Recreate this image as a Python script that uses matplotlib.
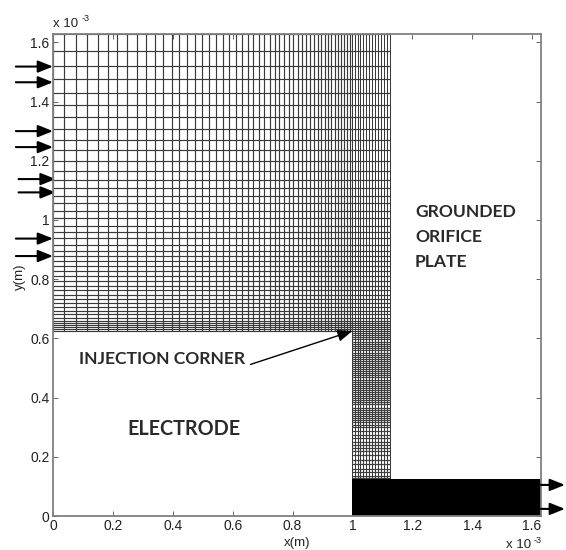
import matplotlib
matplotlib.use("Agg")
import matplotlib.pyplot as plt

# mesh lines, in units of 1e-3 m
x_upper = [0, .038, .076, .114, .149, .183, .215, .248, .279, .311, .341, .368, .397, .422, .447,
           .473, .497, .521, .544, .567, .589, .610, .630, .650, .669, .688, .706, .724, .740,
           .756, .772, .788, .802, .817, .831, .845, .858, .871, .884, .895, .907, .918, .929,
           .941, .952, .962, .972, .982, .991]
x_column = [1.0, 1.009, 1.018, 1.027, 1.037, 1.047, 1.057, 1.067, 1.077, 1.087, 1.097, 1.107, 1.117, 1.127]
y_upper = [1.628, 1.571, 1.519, 1.476, 1.429, 1.388, 1.348, 1.307, 1.270, 1.236, 1.199, 1.166, 1.135,
           1.108, 1.082, 1.057, 1.031, 1.006, .981, .958, .938, .917, .896, .878, .861, .845, .829,
           .812, .794, .778, .762, .747, .733, .719, .707, .694, .681, .670, .660, .651, .644, .637,
           .630, .625]
y_column = [.618, .611, .604, .597, .587, .580, .573, .566, .559, .552, .545, .538, .531, .524, .517,
            .510, .503, .496, .489, .482, .475, .468, .461, .454, .447, .440, .433, .426, .419, .412,
            .405, .398, .391, .384, .377, .365, .358, .351, .344, .337, .330, .323, .316, .309, .302,
            .287, .275, .263, .251, .240, .228, .218, .205, .190, .175, .160, .147, .136, .128]
y_block = [0, .125]
x_block = [1.0, 1.63]
x_lim = [0, 1.63]
y_lim = [0, 1.628]
x_ticks = [0, .2, .4, .6, .8, 1, 1.2, 1.4, 1.6]
y_ticks = [0, .2, .4, .6, .8, 1, 1.2, 1.4, 1.6]
tick_labels = ["0", "0.2", "0.4", "0.6", "0.8", "1", "1.2", "1.4", "1.6"]
inlet_y = [1.518, 1.465, 1.300, 1.246, 1.138, 1.093, .937, .878]
inlet_start = [-.124, -.124, -.124, -.124, -.115, -.115, -.124, -.124]
outlet_y = [.105, .024]

LINE = "#3a3a3a"
SPINE = "#808080"
TEXT = "#222222"
plt.rcParams["font.family"] = ["Liberation Sans", "DejaVu Sans"]

fig = plt.figure(figsize=(5.66, 5.5), dpi=100)
ax = fig.add_axes([53 / 566, 1 - 516 / 550, 488 / 566, 482 / 550])
ax.set_xlim(*x_lim)
ax.set_ylim(*y_lim)

x_right = x_column[-1]
y_bottom = y_upper[-1]
ax.vlines(x_upper, y_bottom, y_lim[1], color=LINE, lw=0.85)
ax.vlines(x_column, y_block[1], y_lim[1], color=LINE, lw=0.75)
ax.hlines(y_upper, x_lim[0], x_right, color=LINE, lw=0.85)
ax.hlines(y_column, x_column[0], x_right, color="#404040", lw=0.9)
ax.fill_between(x_block, y_block[0], y_block[1], color="black", lw=0, zorder=3)

for s in ax.spines.values():
    s.set_color(SPINE)
    s.set_linewidth(1.3)
    s.set_zorder(5)
ax.set_xticks(x_ticks, tick_labels)
ax.set_yticks(y_ticks, tick_labels)
ax.tick_params(direction="in", length=3.5, width=0.7, color="#666666", top=True, right=True,
               labelsize=10, labelcolor=TEXT, pad=2.5)
ax.set_xlabel("x(m)", fontsize=9.5, color=TEXT)
ax.set_ylabel("y(m)", fontsize=9.5, color=TEXT)
ax.xaxis.set_label_coords(0.5, -0.044)
ax.yaxis.set_label_coords(-0.055, 0.496)

fig.text(53 / 566, 1 - 27 / 550, "x 10", fontsize=9.5, color=TEXT)
fig.text(82 / 566, 1 - 21 / 550, "-3", fontsize=6.5, color=TEXT)
fig.text(506 / 566, 1 - 548 / 550, "x 10", fontsize=9.5, color=TEXT)
fig.text(534 / 566, 1 - 543 / 550, "-3", fontsize=6.5, color=TEXT)

arrow = dict(arrowstyle="-|>,head_length=0.75,head_width=0.3", color="black", lw=1.5,
             shrinkA=0, shrinkB=0, mutation_scale=12)
for y, x0 in zip(inlet_y, inlet_start):
    ax.annotate("", xy=(x0 + .124, y), xytext=(x0, y), arrowprops=arrow, annotation_clip=False)
for y in outlet_y:
    ax.annotate("", xy=(1.71, y), xytext=(1.63, y), arrowprops=arrow, annotation_clip=False, zorder=6)

big = dict(family="Lato", weight="bold", color="#2a2a2a", va="center", ha="left", fontsize=12.6)
ax.text(0.087, 0.531, "INJECTION CORNER", **big)
ax.annotate("", xy=(1.0, .625), xytext=(.66, .512),
            arrowprops=dict(arrowstyle="-|>,head_length=0.75,head_width=0.3", color="black", lw=1.0,
                            shrinkA=0, shrinkB=0, mutation_scale=12))
ax.text(.25, .295, "ELECTRODE", **{**big, "fontsize": 14.2})
ax.text(1.209, 1.027, "GROUNDED", **big)
ax.text(1.209, .943, "ORIFICE", **big)
ax.text(1.209, .858, "PLATE", **big)

fig.savefig("out.png", dpi=100)
